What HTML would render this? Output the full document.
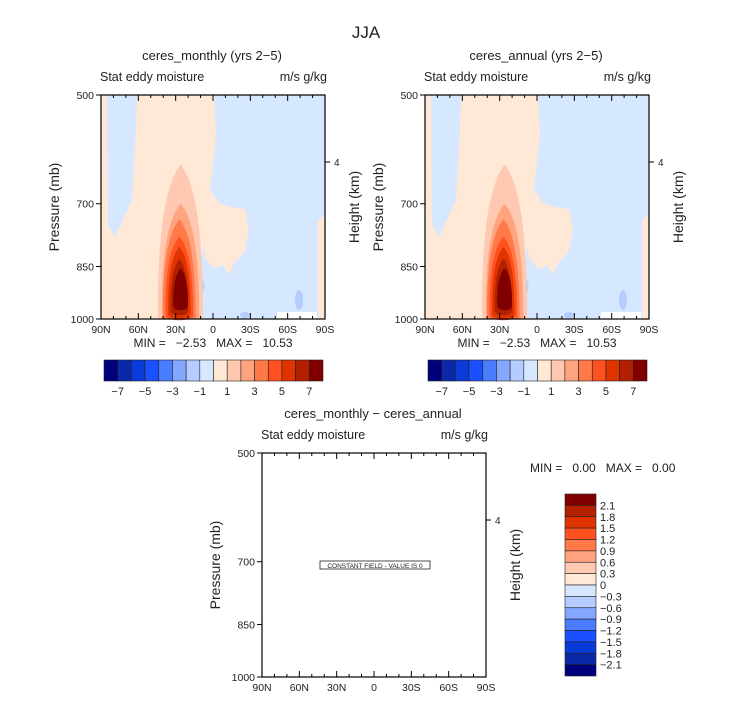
<!DOCTYPE html>
<html><head><meta charset="utf-8">
<style>
body{margin:0;background:#fff;}
svg{display:block;font-family:"Liberation Sans",sans-serif;}
text{fill:#222;white-space:pre;}
</style></head>
<body>
<svg id="chart" width="733" height="702" viewBox="0 0 733 702" xmlns="http://www.w3.org/2000/svg">
<text x="366" y="38" font-size="17" text-anchor="middle">JJA</text>
<g id="panels"></g>
</svg>
<script>
const NS="http://www.w3.org/2000/svg";
const latTicks=["90N","60N","30N","0","30S","60S","90S"];
const presTicks=[500,700,850,1000];
const colors=["#00007f","#0a28a8","#0a3ad8","#1a50ff","#4a7cff","#84a8ff","#b4ccff","#d6e8ff","#ffe8d6","#ffc8b0","#ffa47e","#ff7a48","#ff5020","#e03400","#b22000","#800000"];
const cb1Labels=["-7","-5","-3","-1","1","3","5","7"];
const cb2Labels=["2.1","1.8","1.5","1.2","0.9","0.6","0.3","0","-0.3","-0.6","-0.9","-1.2","-1.5","-1.8","-2.1"];
// red core: [latitude of peak, top pressure, half-width (deg) at bottom, bottom pressure]
const blobLat=[26,26,27,27,27,27,26];
const blobTop=[620,700,735,775,800,830,855];
const blobHalf=[18,15,13,11,9,7,6];
const blobBottom=[1000,1000,1000,990,985,975,960];
const svg=document.getElementById('panels');
function el(tag,attrs,parent){const e=document.createElementNS(NS,tag);for(const k in attrs)e.setAttribute(k,attrs[k]);(parent||svg).appendChild(e);return e;}
function txt(x,y,s,size,anchor,parent){const t=el('text',{x:x,y:y,'font-size':size,'text-anchor':anchor||'start'},parent);t.textContent=s;return t;}
const logp=p=>Math.log(p);
function panel(x0,y0,title,field,name){
  const W=224,H=224;
  const g=el('g',{});
  
  
  const sx=lat=>x0+(90-lat)/180*W;
  const sy=p=>y0+(logp(p)-logp(500))/(logp(1000)-logp(500))*H;
  let t=txt(x0+W/2-1,y0-35,title,13,'middle',g);
  
  t=txt(x0-1,y0-14,"Stat eddy moisture",12.5,'start',g);
  
  t=txt(x0+W+2,y0-14,"m/s g/kg",12.5,'end',g);
  
  if(field){
    const P=pts=>pts.map(q=>q[0]+','+q[1]).join(' ');
    el('rect',{x:x0,y:y0,width:W,height:H,fill:colors[8]},g);
    el('polygon',{points:P([[x0+6,y0],[x0+36,y0],[x0+35,y0+35],[x0+31,y0+105],[x0+21,y0+127],[x0+14,y0+142],[x0+7,y0+130]]),fill:colors[7]},g);
    el('polygon',{points:P([[x0+113,y0],[x0+W,y0],[x0+W,y0+120],[x0+W-7,y0+125],[x0+W-7,y0+H],[x0+102,y0+H],[x0+99,y0+200],[x0+97,y0+178],[x0+103,y0+150],[x0+109,y0+95],[x0+115,y0+40]]),fill:colors[7]},g);
    el('polygon',{points:P([[x0+110,y0+95],[x0+118,y0+108],[x0+130,y0+112],[x0+144,y0+114],[x0+148,y0+135],[x0+143,y0+158],[x0+133,y0+168],[x0+128,y0+180],[x0+122,y0+170],[x0+113,y0+174],[x0+104,y0+163],[x0+101,y0+130]]),fill:colors[8]},g);
    el('polygon',{points:P([[x0+176,y0+H],[x0+216,y0+H],[x0+216,y0+217],[x0+176,y0+217]]),fill:"#fff"},g);
    el('ellipse',{cx:x0+101,cy:y0+191,rx:2.5,ry:6,fill:colors[6]},g);
    el('ellipse',{cx:x0+198,cy:y0+205,rx:4,ry:10,fill:colors[6]},g);
    el('ellipse',{cx:x0+144,cy:y0+220,rx:5,ry:3,fill:colors[6]},g);
    for(let i=0;i<blobLat.length;i++){
      const cx=sx(blobLat[i]),top=sy(blobTop[i]),bot=sy(blobBottom[i]);
      const hw=blobHalf[i]/180*W;
      const c=blobBottom[i]>=1000;
      const d=`M${cx},${top} C${cx+hw*0.8},${top+(bot-top)*0.15} ${cx+hw*1.0},${top+(bot-top)*0.55} ${cx+hw},${bot} `+
        (c?`L${cx-hw},${bot} `:`C${cx+hw*0.9},${bot+6} ${cx-hw*0.9},${bot+6} ${cx-hw},${bot} `)+
        `C${cx-hw*1.05},${top+(bot-top)*0.55} ${cx-hw*0.8},${top+(bot-top)*0.15} ${cx},${top}Z`;
      const p=el('path',{d:d,fill:colors[9+i]},g);
      
      
    }
  } else {
    const cg=el('g',{},g);
    el('rect',{x:x0+58,y:y0+108,width:110,height:8,fill:"#fff",stroke:"#000","stroke-width":0.7},cg);
    const ct=txt(x0+113,y0+115,"CONSTANT FIELD - VALUE IS 0",6.5,'middle',cg);
    
  }
  el('rect',{x:x0,y:y0,width:W,height:H,fill:"none",stroke:"#000","stroke-width":1.2},g);
  for(let d=-90;d<=90;d+=10){
    const x=sx(d),major=d%30===0,L=major?6:3;
    el('line',{x1:x,y1:y0,x2:x,y2:y0+L,stroke:"#000"},g);
    el('line',{x1:x,y1:y0+H,x2:x,y2:y0+H-L,stroke:"#000"},g);
  }
  latTicks.forEach((s,i)=>{const t=txt(x0+i*W/6,y0+H+14,s,10.5,'middle',g);});
  presTicks.forEach(p=>{el('line',{x1:x0-5,y1:sy(p),x2:x0,y2:sy(p),stroke:"#000"},g);
    const t=txt(x0-7,sy(p)+4,String(p),10.5,'end',g);});
  const h4=y0+67;
  el('line',{x1:x0+W,y1:h4,x2:x0+W+5,y2:h4,stroke:"#000"},g);
  txt(x0+W+9,h4+4,"4",10,'start',g);
  let yt=txt(0,0,"Pressure (mb)",14,'middle',g);
  yt.setAttribute('transform',`translate(${x0-42},${y0+112}) rotate(-90)`);
  
  yt=txt(0,0,"Height (km)",14,'middle',g);
  yt.setAttribute('transform',`translate(${x0+W+34},${y0+112}) rotate(-90)`);
  
  return g;
}
function hbar(x0,y0,w,h,name){
  const g=el('g',{});
  
  
  const bw=w/colors.length;
  colors.forEach((c,i)=>{const r=el('rect',{x:x0+i*bw,y:y0,width:bw,height:h,fill:c,stroke:"#222","stroke-width":0.6},g);
    });
  cb1Labels.forEach((s,i)=>{const t=txt(x0+bw*(1+2*i),y0+h+14,s.replace('-','\u2212'),11,'middle',g);});
}
panel(101,95,"ceres_monthly (yrs 2\u22125)",true,"panel-ceres-monthly");
let m=txt(213,347,"MIN =   \u22122.53   MAX =   10.53",12,'middle');

hbar(104,360,219,21,"colorbar-monthly");
panel(425,95,"ceres_annual (yrs 2\u22125)",true,"panel-ceres-annual");
m=txt(537,347,"MIN =   \u22122.53   MAX =   10.53",12,'middle');

hbar(428,360,219,21,"colorbar-annual");
panel(262,453,"ceres_monthly \u2212 ceres_annual",false,"panel-difference");
m=txt(530,472,"MIN =   0.00   MAX =   0.00",12,'start');

(function(){
  const g=el('g',{});
  
  
  const x0=565,y0=494,w=31,H=182,bh=H/colors.length;
  colors.slice().reverse().forEach((c,i)=>{const r=el('rect',{x:x0,y:y0+i*bh,width:w,height:bh,fill:c,stroke:"#222","stroke-width":0.6},g);
    });
  cb2Labels.forEach((s,i)=>{const t=txt(x0+w+4,y0+bh*(i+1)+4,s.replace('-','\u2212'),11,'start',g);});
})();
</script>
</body></html>
